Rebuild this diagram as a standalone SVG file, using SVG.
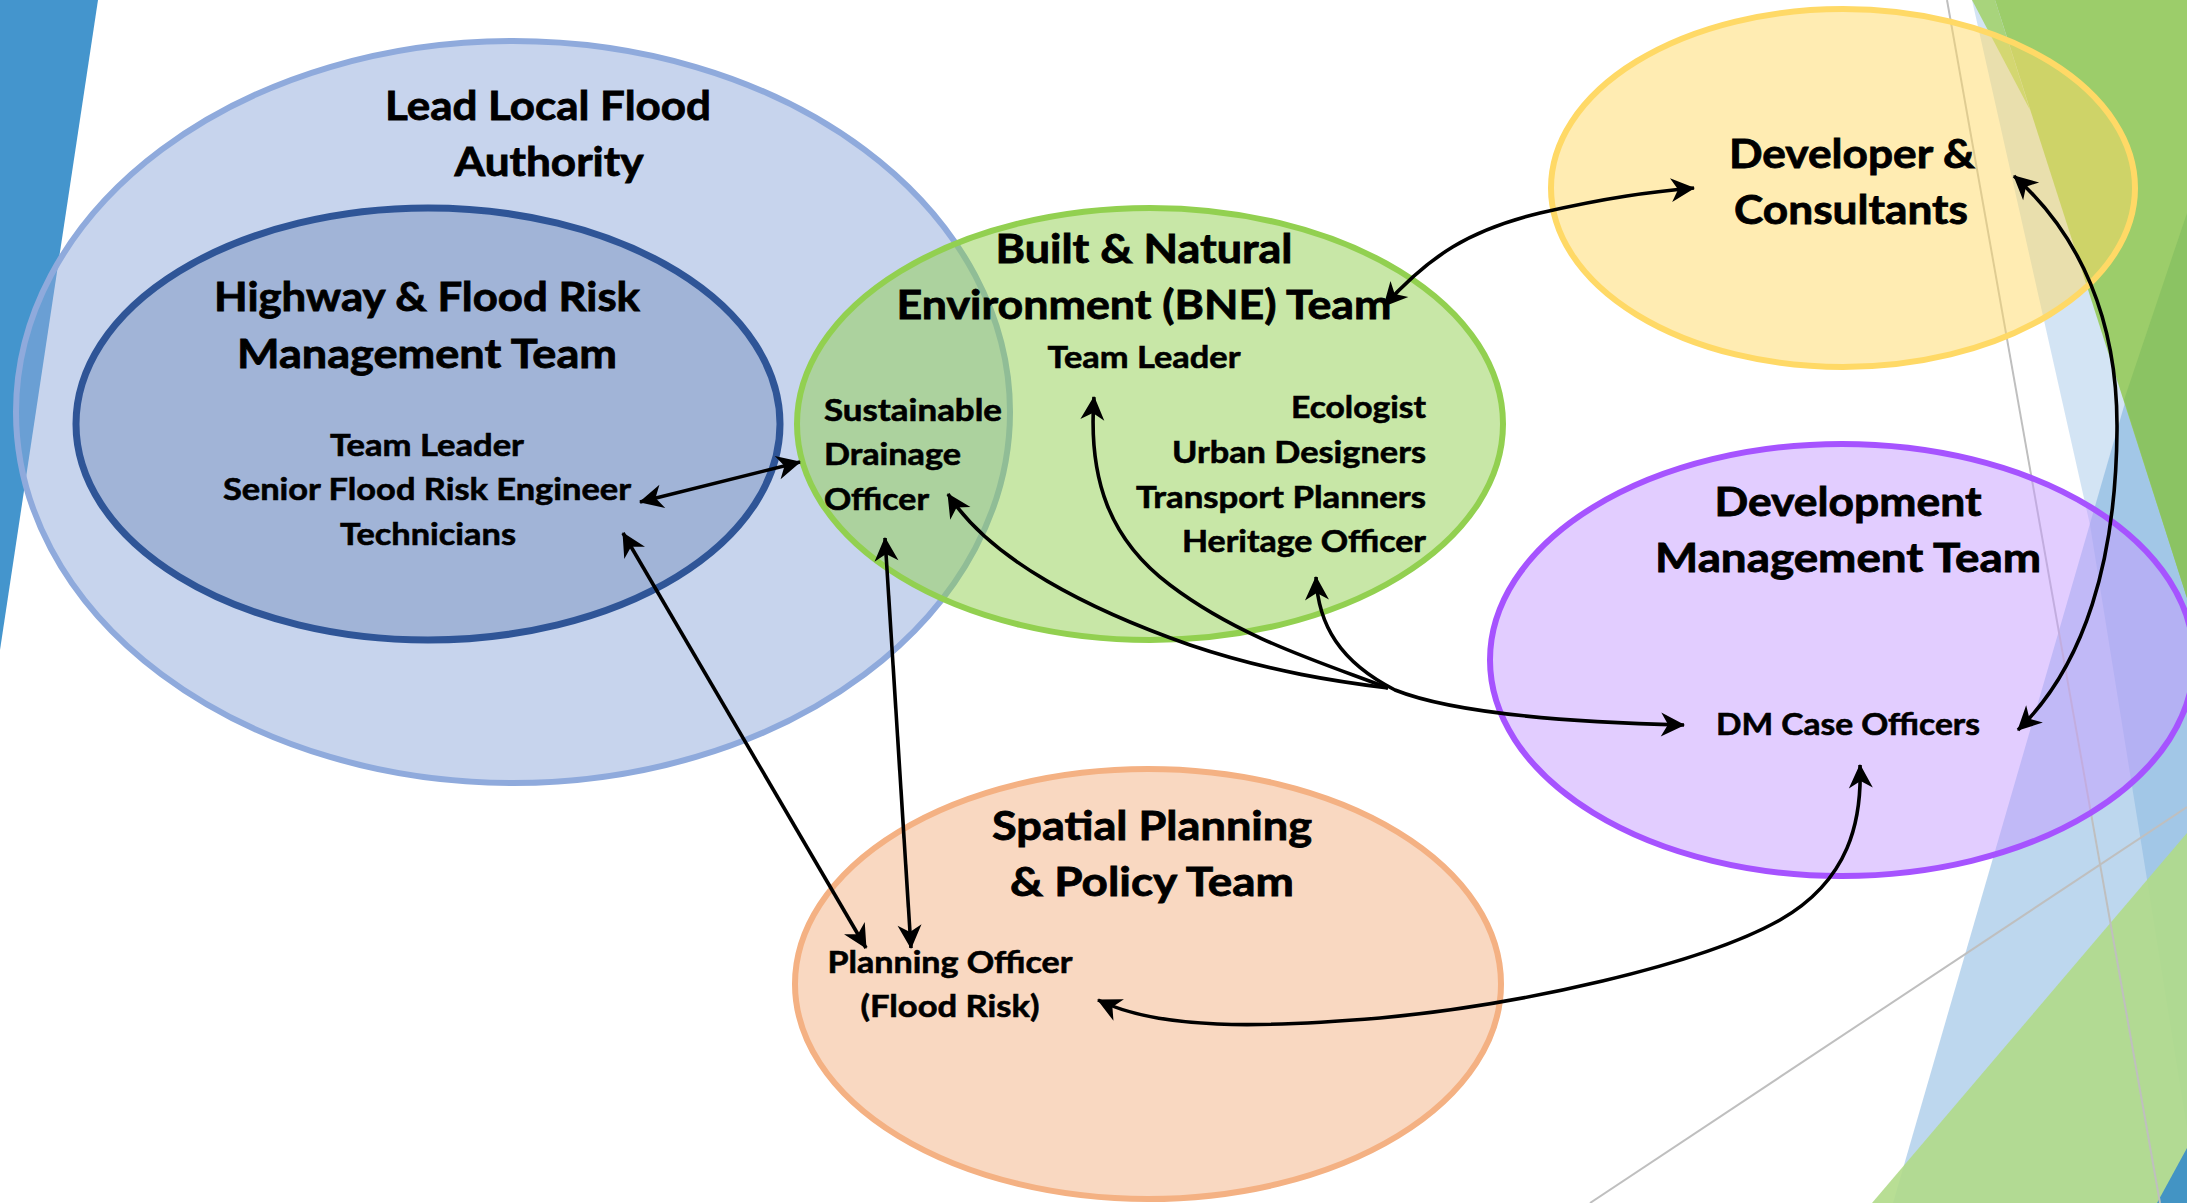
<svg xmlns="http://www.w3.org/2000/svg" width="2187" height="1203" viewBox="0 0 2187 1203">
<defs>
<style>
.h{font-family:Lato,"Open Sans","Liberation Sans",sans-serif;font-weight:700;font-size:40px;fill:#000;stroke:#000;stroke-width:0.8;text-anchor:middle}
.s{font-family:Lato,"Open Sans","Liberation Sans",sans-serif;font-weight:700;font-size:31px;fill:#000;stroke:#000;stroke-width:0.6;text-anchor:middle}
.sl{text-anchor:start}
.sr{text-anchor:end}
.conn path,.conn line{fill:none;stroke:#000;stroke-width:3.6;marker-end:url(#arr)}
.conn .two{marker-start:url(#arr)}
.conn .none{marker-end:none}
.gl{stroke:#BFBFBF;stroke-width:2;fill:none}
</style>
<marker id="arr" viewBox="-26 -13 28 26" refX="0" refY="0" markerWidth="28" markerHeight="26" markerUnits="userSpaceOnUse" orient="auto-start-reverse">
<path d="M1,0 L-23,-12 L-16,0 L-23,12 Z" fill="#000"/>
</marker>
</defs>
<rect width="2187" height="1203" fill="#FFFFFF"/>
<g id="background">
<polygon points="0,0 98,0 0,650" fill="#4495CD"/>
<polygon points="1972,0 2187,0 2187,1128 2090,525" fill="#5B9BD5" fill-opacity="0.27"/>
<polygon points="2187,189 1893,1203 2187,1203" fill="#5B9BD5" fill-opacity="0.4"/>
<polygon points="1972,0 1995,0 2030,110" fill="#A8D47C"/>
<polygon points="1995,0 2187,0 2187,598" fill="#9CCD6A"/>
<polygon points="2187,213 2124,400 2187,598" fill="#8BC363"/>
<polygon points="1872,1203 2187,833 2187,1203" fill="#B0DA88" fill-opacity="0.9"/>
<polygon points="2157,1203 2187,1148 2187,1203" fill="#4394C4"/>
<line class="gl" x1="1947" y1="0" x2="2160" y2="1203"/>
<line class="gl" x1="1590" y1="1203" x2="2187" y2="807"/>
</g>
<g id="llfa">
<ellipse cx="513" cy="412" rx="497" ry="371" fill="#8FAADC" fill-opacity="0.5" stroke="#8FAADC" stroke-width="6"/>
<text class="h" x="548" y="120" textLength="326" lengthAdjust="spacingAndGlyphs">Lead Local Flood</text>
<text class="h" x="549" y="176" textLength="189" lengthAdjust="spacingAndGlyphs">Authority</text>
</g>
<g id="highway">
<ellipse cx="428" cy="424" rx="352" ry="216" fill="#2F5597" fill-opacity="0.25" stroke="#2F5597" stroke-width="7"/>
<text class="h" x="427" y="311" textLength="426" lengthAdjust="spacingAndGlyphs">Highway &amp; Flood Risk</text>
<text class="h" x="427" y="368" textLength="380" lengthAdjust="spacingAndGlyphs">Management Team</text>
<text class="s" x="427" y="456" textLength="194" lengthAdjust="spacingAndGlyphs">Team Leader</text>
<text class="s" x="427" y="500" textLength="408" lengthAdjust="spacingAndGlyphs">Senior Flood Risk Engineer</text>
<text class="s" x="428" y="545" textLength="176" lengthAdjust="spacingAndGlyphs">Technicians</text>
</g>
<g id="bne">
<ellipse cx="1150" cy="424" rx="353" ry="216" fill="#92D050" fill-opacity="0.5" stroke="#92D050" stroke-width="6"/>
<text class="h" x="1144" y="263" textLength="297" lengthAdjust="spacingAndGlyphs">Built &amp; Natural</text>
<text class="h" x="1144" y="319" textLength="495" lengthAdjust="spacingAndGlyphs">Environment (BNE) Team</text>
<text class="s" x="1144" y="368" textLength="193" lengthAdjust="spacingAndGlyphs">Team Leader</text>
<text class="s sl" x="824" y="421" textLength="178" lengthAdjust="spacingAndGlyphs">Sustainable</text>
<text class="s sl" x="824" y="465" textLength="137" lengthAdjust="spacingAndGlyphs">Drainage</text>
<text class="s sl" x="824" y="510" textLength="105" lengthAdjust="spacingAndGlyphs">Officer</text>
<text class="s sr" x="1426" y="418" textLength="135" lengthAdjust="spacingAndGlyphs">Ecologist</text>
<text class="s sr" x="1426" y="463" textLength="254" lengthAdjust="spacingAndGlyphs">Urban Designers</text>
<text class="s sr" x="1426" y="508" textLength="290" lengthAdjust="spacingAndGlyphs">Transport Planners</text>
<text class="s sr" x="1426" y="552" textLength="244" lengthAdjust="spacingAndGlyphs">Heritage Officer</text>
</g>
<g id="developer">
<ellipse cx="1843" cy="188" rx="292" ry="179" fill="#FFD966" fill-opacity="0.5" stroke="#FFD966" stroke-width="6"/>
<text class="h" x="1852" y="168" textLength="246" lengthAdjust="spacingAndGlyphs">Developer &amp;</text>
<text class="h" x="1851" y="224" textLength="234" lengthAdjust="spacingAndGlyphs">Consultants</text>
</g>
<g id="dm">
<ellipse cx="1842" cy="660" rx="352" ry="216" fill="#C69BFF" fill-opacity="0.5" stroke="#A653FF" stroke-width="6"/>
<text class="h" x="1848" y="516" textLength="267" lengthAdjust="spacingAndGlyphs">Development</text>
<text class="h" x="1848" y="572" textLength="386" lengthAdjust="spacingAndGlyphs">Management Team</text>
<text class="s" x="1848" y="735" textLength="264" lengthAdjust="spacingAndGlyphs">DM Case Officers</text>
</g>
<g id="spatial">
<ellipse cx="1148" cy="984" rx="353" ry="215" fill="#F4B183" fill-opacity="0.5" stroke="#F4B183" stroke-width="6"/>
<text class="h" x="1152" y="840" textLength="320" lengthAdjust="spacingAndGlyphs">Spatial Planning</text>
<text class="h" x="1152" y="896" textLength="284" lengthAdjust="spacingAndGlyphs">&amp; Policy Team</text>
<text class="s" x="950" y="973" textLength="245" lengthAdjust="spacingAndGlyphs">Planning Officer</text>
<text class="s" x="950" y="1017" textLength="179" lengthAdjust="spacingAndGlyphs">(Flood Risk)</text>
</g>
<g id="connectors" class="conn">
<line class="two" x1="640" y1="502" x2="800" y2="462"/>
<line class="two" x1="623" y1="533" x2="866" y2="948"/>
<line class="two" x1="885" y1="538" x2="911" y2="948"/>
<path class="two" d="M1384,306 C1430,255 1470,230 1540,213 C1610,197 1650,192 1694,188"/>
<path class="two" d="M2014,176 C2080,235 2118,320 2117,430 C2116,560 2085,665 2018,730"/>
<path class="two none" d="M948,494 C990,560 1090,610 1190,645 C1270,672 1340,682 1388,688"/>
<path class="two none" d="M1094,397 C1088,480 1110,540 1170,585 C1240,638 1320,662 1388,688"/>
<path class="two" d="M1316,577 C1318,625 1340,662 1395,690 C1450,712 1560,722 1684,725"/>
<path class="two" d="M1098,1000 C1160,1030 1260,1028 1380,1018 C1520,1005 1700,965 1780,920 C1850,880 1862,820 1860,765"/>
</g>
</svg>
